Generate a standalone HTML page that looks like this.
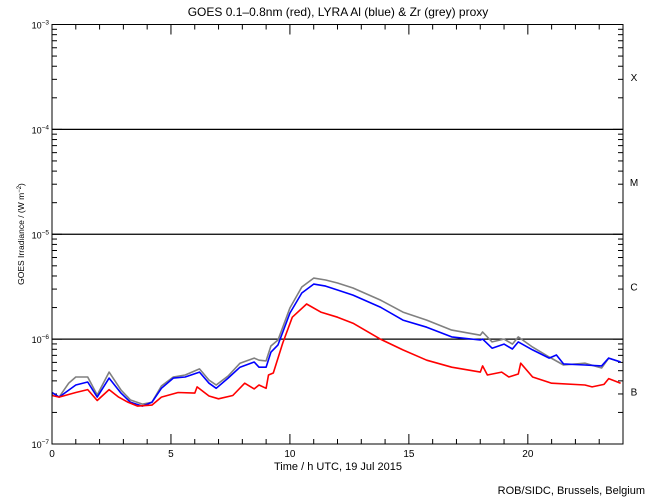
<!DOCTYPE html>
<html><head><meta charset="utf-8"><style>
body{margin:0;background:#fff;width:650px;height:500px;overflow:hidden}
svg{display:block;font-family:"Liberation Sans",sans-serif}
</style></head><body>
<svg id="chart" width="650" height="500" viewBox="0 0 650 500">
<text x="338" y="16" text-anchor="middle" font-size="12">GOES 0.1–0.8nm (red), LYRA Al (blue) &amp; Zr (grey) proxy</text>
<text x="338" y="470" text-anchor="middle" font-size="11">Time / h UTC, 19 Jul 2015</text>
<text transform="translate(24,234) rotate(-90)" text-anchor="middle" font-size="8.5">GOES Irradiance / (W m<tspan dy="-3" font-size="6">−2</tspan><tspan dy="3">)</tspan></text>
<text x="645" y="494" text-anchor="end" font-size="11">ROB/SIDC, Brussels, Belgium</text>
<g id="grid"></g><g id="ticks"></g><g id="series"></g>
<rect x="52" y="24.5" width="571" height="419.5" fill="none" stroke="#000" stroke-width="1"/>
</svg>
<script>
const hoursRed=[0,0.3,1.0,1.5,1.9,2.4,2.8,3.2,3.6,4.2,4.6,5.3,6.0,6.1,6.6,7.0,7.6,8.1,8.5,8.7,9.0,9.1,9.3,9.7,10.1,10.7,11.3,12.0,12.65,13.8,14.75,15.75,16.8,18.0,18.1,18.3,18.9,19.2,19.6,19.7,20.2,21.0,22.4,22.7,23.2,23.4,23.9];
const goesRed=[2.9e-7,2.8e-7,3.1e-7,3.3e-7,2.6e-7,3.3e-7,2.8e-7,2.5e-7,2.3e-7,2.35e-7,2.8e-7,3.1e-7,3.06e-7,3.5e-7,2.87e-7,2.7e-7,2.9e-7,3.8e-7,3.35e-7,3.65e-7,3.4e-7,4.55e-7,4.75e-7,9.2e-7,1.62e-6,2.16e-6,1.81e-6,1.62e-6,1.42e-6,1.0e-6,7.9e-7,6.3e-7,5.4e-7,4.85e-7,5.55e-7,4.55e-7,4.85e-7,4.35e-7,4.65e-7,5.9e-7,4.35e-7,3.8e-7,3.65e-7,3.5e-7,3.7e-7,4.2e-7,3.8e-7];
const hoursBlue=[0,0.3,1.0,1.5,1.9,2.4,2.9,3.3,3.8,4.2,4.6,5.1,5.6,6.2,6.6,6.9,7.4,7.9,8.5,8.7,9.0,9.2,9.5,10.0,10.5,11.0,11.5,12.0,12.65,13.8,14.75,15.75,16.8,18.0,18.1,18.5,19.0,19.35,19.6,20.2,20.9,21.2,21.5,22.4,23.1,23.4,23.9];
const lyraAl=[3.1e-7,2.8e-7,3.65e-7,3.9e-7,2.8e-7,4.25e-7,3.06e-7,2.5e-7,2.3e-7,2.5e-7,3.4e-7,4.25e-7,4.35e-7,4.85e-7,3.8e-7,3.4e-7,4.25e-7,5.4e-7,6.05e-7,5.4e-7,5.4e-7,7.5e-7,8.8e-7,1.77e-6,2.75e-6,3.35e-6,3.2e-6,2.94e-6,2.63e-6,2.02e-6,1.52e-6,1.3e-6,1.05e-6,9.8e-7,1.0e-6,8.2e-7,8.97e-7,8.05e-7,9.4e-7,7.9e-7,6.6e-7,7.05e-7,5.8e-7,5.66e-7,5.55e-7,6.6e-7,6.05e-7];
const hoursGrey=[0,0.3,0.7,1.0,1.5,1.9,2.4,2.9,3.3,3.8,4.2,4.6,5.1,5.6,6.2,6.6,6.9,7.4,7.9,8.5,8.7,9.0,9.2,9.5,10.0,10.5,11.0,11.5,12.0,12.65,13.8,14.75,15.75,16.8,18.0,18.1,18.5,19.0,19.35,19.6,20.2,20.9,21.5,22.4,23.1,23.4,23.9];
const lyraZr=[3.1e-7,2.8e-7,3.8e-7,4.35e-7,4.35e-7,2.93e-7,4.85e-7,3.27e-7,2.63e-7,2.4e-7,2.5e-7,3.57e-7,4.35e-7,4.55e-7,5.2e-7,4.07e-7,3.65e-7,4.45e-7,5.9e-7,6.6e-7,6.3e-7,6.2e-7,8.6e-7,9.8e-7,1.98e-6,3.14e-6,3.82e-6,3.66e-6,3.43e-6,3.07e-6,2.36e-6,1.81e-6,1.52e-6,1.22e-6,1.09e-6,1.17e-6,9.4e-7,1.0e-6,8.97e-7,1.05e-6,8.4e-7,6.75e-7,5.66e-7,5.9e-7,5.3e-7,6.6e-7,6.05e-7];
const xTickLabels=["0","5","10","15","20"];
const yTickExps=[-7,-6,-5,-4,-3];
const classLabels=["B","C","M","X"];

const NS="http://www.w3.org/2000/svg";
const X0=52,X1=623,Y0=444,Y1=24.5;
const xs=h=>X0+(X1-X0)*h/24;
const ys=v=>Y0-(Y0-Y1)*(Math.log10(v)+7)/4;
function mk(tag,attrs,parent){const e=document.createElementNS(NS,tag);for(const k in attrs)e.setAttribute(k,attrs[k]);document.getElementById(parent).appendChild(e);return e;}
// flare class lines
[1e-6,1e-5,1e-4].forEach(v=>{
 const l=mk('line',{x1:X0,x2:X1,y1:ys(v),y2:ys(v),stroke:'#000','stroke-width':1.3},'grid');
 
 
});
classLabels.forEach((c,i)=>{
 const t=mk('text',{x:634,y:ys(Math.pow(10,-6.5+i))+4,'text-anchor':'middle','font-size':10},'grid');t.textContent=c;
 
 
});
// y ticks
yTickExps.forEach((e,i)=>{
 const t=mk('text',{x:49,y:ys(Math.pow(10,e))+4,'text-anchor':'end','font-size':9},'ticks');
 t.innerHTML='10<tspan dy="-4" font-size="6.5">'+String.fromCharCode(8722)+Math.abs(e)+'</tspan>';
 
 
 if(i<yTickExps.length-1){for(let m=1;m<10;m++){const y=ys(m*Math.pow(10,e));const len=m==1?10:5;
  mk('line',{x1:X0,x2:X0+len,y1:y,y2:y,stroke:'#000'},'ticks');mk('line',{x1:X1-len,x2:X1,y1:y,y2:y,stroke:'#000'},'ticks');}}
});
// x ticks
for(let h=0;h<=24;h++){const x=xs(h);const len=h%5==0?10:5;
 mk('line',{x1:x,x2:x,y1:Y0,y2:Y0-len,stroke:'#000'},'ticks');mk('line',{x1:x,x2:x,y1:Y1,y2:Y1+len,stroke:'#000'},'ticks');}
xTickLabels.forEach(s=>{const t=mk('text',{x:xs(+s),y:457,'text-anchor':'middle','font-size':10},'ticks');t.textContent=s;
 
 
});
function series(hs,vs,col,name){
 const p=mk('polyline',{points:hs.map((h,i)=>xs(h).toFixed(1)+','+ys(vs[i]).toFixed(1)).join(' '),fill:'none',stroke:col,'stroke-width':1.6,'stroke-linejoin':'round'},'series');
 
 
}
series(hoursGrey,lyraZr,'#808080','lyra-zr-series');
series(hoursBlue,lyraAl,'#0000ff','lyra-al-series');
series(hoursRed,goesRed,'#ff0000','goes-series');
</script>
</body></html>
